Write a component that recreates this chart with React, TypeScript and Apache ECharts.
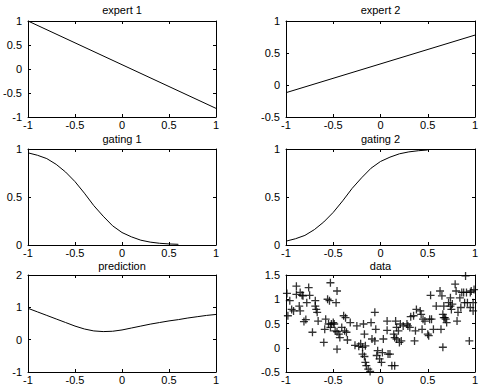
import React, { useEffect, useRef } from "react";
import * as echarts from "echarts";

const titles = ["expert 1", "expert 2", "gating 1", "gating 2", "prediction", "data"];

const expertX = [-1, 1];
const expert1Y = [1.0, -0.82];
const expert2Y = [-0.12, 0.78];

const gating1X = [-1, -0.9, -0.8, -0.7, -0.6, -0.5, -0.4, -0.3, -0.2, -0.1, 0, 0.1, 0.2, 0.3, 0.4, 0.5, 0.6];
const gating1Y = [0.96, 0.935, 0.9, 0.84, 0.76, 0.66, 0.54, 0.41, 0.3, 0.2, 0.13, 0.085, 0.05, 0.03, 0.018, 0.011, 0.007];

const gating2X = [-1, -0.9, -0.8, -0.7, -0.6, -0.5, -0.4, -0.3, -0.2, -0.1, 0, 0.1, 0.2, 0.3, 0.4, 0.5];
const gating2Y = [0.04, 0.065, 0.1, 0.16, 0.24, 0.34, 0.46, 0.59, 0.7, 0.8, 0.87, 0.915, 0.95, 0.97, 0.982, 0.99];

const predX = [-1, -0.9, -0.8, -0.7, -0.6, -0.5, -0.4, -0.3, -0.2, -0.1, 0, 0.1, 0.2, 0.3, 0.4, 0.5, 0.6, 0.7, 0.8, 0.9, 1];
const predY = [0.97, 0.86, 0.75, 0.64, 0.53, 0.42, 0.33, 0.27, 0.25, 0.26, 0.3, 0.36, 0.42, 0.48, 0.53, 0.58, 0.62, 0.67, 0.71, 0.75, 0.78];

const dataX = [
  -0.99, -0.96, -0.98, -0.94, -0.92, -0.89, -0.89, -0.85, -0.86, -0.85, -0.83, -0.82, -0.81, -0.79, -0.78, -0.76,
  -0.75, -0.72, -0.69, -0.69, -0.68, -0.67, -0.66, -0.6, -0.59, -0.58, -0.56, -0.54, -0.53, -0.55, -0.53, -0.52,
  -0.5, -0.49, -0.47, -0.46, -0.46, -0.48, -0.46, -0.44, -0.43, -0.41, -0.39, -0.37, -0.38, -0.36, -0.35, -0.32,
  -0.25, -0.27, -0.23, -0.21, -0.19, -0.18, -0.17, -0.19, -0.17, -0.16, -0.16, -0.15, -0.13, -0.11, -0.09, -0.1,
  -0.06, -0.05, -0.06, -0.04, -0.03, -0.01, 0.01, 0.02, 0.03, 0.07, 0.07, 0.08, 0.1, 0.12, 0.14, 0.15,
  0.15, 0.16, 0.17, 0.17, 0.19, 0.2, 0.22, 0.21, 0.24, 0.28, 0.29, 0.31, 0.32, 0.35, 0.36, 0.37,
  0.38, 0.42, 0.43, 0.44, 0.45, 0.47, 0.5, 0.51, 0.52, 0.53, 0.54, 0.56, 0.59, 0.63, 0.64, 0.65,
  0.66, 0.67, 0.66, 0.67, 0.68, 0.69, 0.7, 0.72, 0.74, 0.74, 0.75, 0.76, 0.79, 0.8, 0.81, 0.82,
  0.84, 0.85, 0.86, 0.88, 0.89, 0.9, 0.91, 0.92, 0.94, 0.95, 0.95, 0.96, 0.98, 0.98, 0.99
];
const dataY = [
  1.12, 0.97, 0.66, 0.79, 0.76, 1.1, 1.27, 1.14, 0.86, 0.76, 1.08, 1.07, 0.54, 0.58, 0.93, 1.24,
  1.08, 0.32, 0.97, 0.86, 0.79, 0.73, 0.55, 0.11, 0.38, 0.59, 1.0, 0.97, 1.34, 0.49, 0.42, 0.49,
  0.52, 0.49, 0.93, 1.17, -0.03, 0.35, 0.33, 0.28, 0.21, 0.42, 0.66, 0.62, 0.35, 0.32, 0.16, 0.52,
  0.45, 0.05, 0.03, 0.08, 0.01, 0.49, 0.28, -0.13, -0.18, -0.3, 0.04, -0.37, -0.44, -0.49, 0.18, 0.52,
  0.73, 0.38, 0.14, -0.16, -0.06, -0.23, -0.3, -0.1, 0.18, 0.55, 0.36, -0.13, -0.13, -0.37, 0.28, 0.21,
  -0.37, 0.55, 0.42, 0.18, 0.35, 0.11, 0.14, 0.49, 0.45, 0.49, 0.45, 0.42, 0.64, 0.66, 0.14, 0.35,
  0.79, 0.76, 0.69, 0.38, 0.59, 0.55, 0.28, 0.25, 0.59, 1.08, 0.59, 0.38, 0.86, 1.17, 0.38, 1.07,
  0.69, 0.86, 0.01, 0.62, 0.62, 0.59, 0.52, 0.93, 1.03, 0.86, 0.79, 0.9, 1.31, 1.17, 0.55, 0.73,
  1.03, 0.83, 1.14, 1.14, 0.93, 1.48, 1.14, 0.93, 0.14, 0.83, 1.14, 1.17, 0.76, 0.93, 1.2
];

const yRanges = [
  [-1, 1, 0.5],
  [-0.5, 1, 0.5],
  [0, 1, 0.5],
  [0, 1, 0.5],
  [-1, 2, 1],
  [-0.5, 1.5, 0.5],
];

const FONT = "Liberation Sans";
const colLeft = [28, 286];
const colWidth = [188, 189];
const rowTop = [21, 149, 275];
const rowHeight = [96, 96, 97];
const titleTop = [4, 133, 260];

export default function App() {
  const ref = useRef<HTMLDivElement>(null);
  useEffect(() => {
    if (!ref.current) return;
    const chart = echarts.init(ref.current, null, { renderer: "svg" });
    const grids: any[] = [];
    const xAxes: any[] = [];
    const yAxes: any[] = [];
    const graphics: any[] = [];
    for (let i = 0; i < 6; i++) {
      const c = i % 2;
      const r = Math.floor(i / 2);
      grids.push({ left: colLeft[c], top: rowTop[r], width: colWidth[c], height: rowHeight[r], show: false });
      graphics.push({
        type: "text",
        x: colLeft[c] + colWidth[c] / 2,
        y: titleTop[r],
        style: { text: titles[i], font: `11px ${FONT}`, fill: "#000", textAlign: "center", textVerticalAlign: "top" },
      });
    }
    const lineStyle = { color: "#000", width: 1 };
    const mk = (kind: "x" | "y", i: number, primary: boolean) => {
      const [mn, mx, iv] = kind === "x" ? [-1, 1, 0.5] : yRanges[i];
      return {
        type: "value",
        gridIndex: i,
        min: mn,
        max: mx,
        interval: iv,
        position: kind === "x" ? (primary ? "bottom" : "top") : primary ? "left" : "right",
        axisLine: { show: true, onZero: false, lineStyle },
        axisTick: { show: true, inside: true, length: 3, lineStyle },
        splitLine: { show: false },
        axisLabel: {
          show: primary,
          color: "#000",
          fontSize: 11,
          fontFamily: FONT,
          margin: kind === "x" ? 2 : 6,
          showMinLabel: true,
          showMaxLabel: true,
          hideOverlap: false,
        },
      };
    };
    for (let i = 0; i < 6; i++) {
      xAxes.push(mk("x", i, true));
      yAxes.push(mk("y", i, true));
    }
    for (let i = 0; i < 6; i++) {
      xAxes.push(mk("x", i, false));
      yAxes.push(mk("y", i, false));
    }
    const zip = (xs: number[], ys: number[]) => xs.map((x, k) => [x, ys[k]]);
    const line = (i: number, xs: number[], ys: number[]) => ({
      type: "line",
      xAxisIndex: i,
      yAxisIndex: i,
      data: zip(xs, ys),
      showSymbol: false,
      symbol: "none",
      lineStyle: { color: "#000", width: 1 },
      smooth: false,
    });
    const series: any[] = [
      line(0, expertX, expert1Y),
      line(1, expertX, expert2Y),
      line(2, gating1X, gating1Y),
      line(3, gating2X, gating2Y),
      line(4, predX, predY),
      {
        type: "scatter",
        xAxisIndex: 5,
        yAxisIndex: 5,
        data: zip(dataX, dataY),
        symbol: "path://M3.35,0H4.65V3.35H8V4.65H4.65V8H3.35V4.65H0V3.35H3.35Z",
        symbolSize: 8,
        itemStyle: { color: "#000" },
      },
    ];
    chart.setOption({
      animation: false,
      backgroundColor: "#fff",
      grid: grids,
      xAxis: xAxes,
      yAxis: yAxes,
      series,
      graphic: graphics,
    });
    return () => chart.dispose();
  }, []);
  return <div ref={ref} style={{ position: "fixed", left: 0, top: 0, width: 483, height: 390, background: "#fff" }} />;
}
